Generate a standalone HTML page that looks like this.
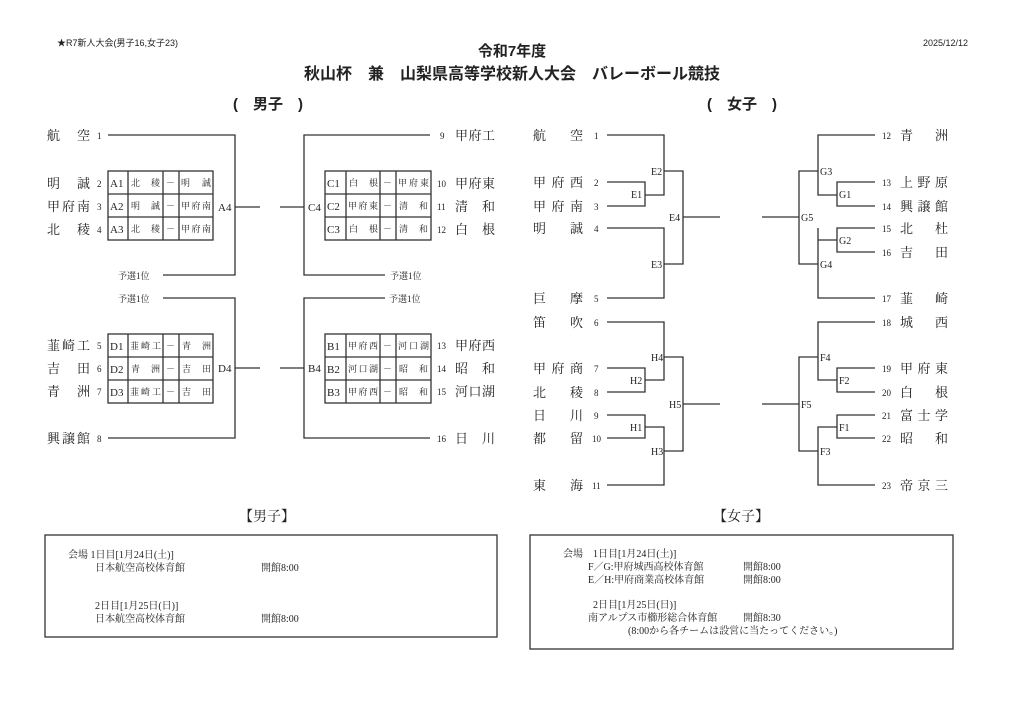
<!DOCTYPE html>
<html><head><meta charset="utf-8"><style>
html,body{margin:0;padding:0;background:#fff;}
svg{display:block;}
text{font-family:"Liberation Serif","Noto Serif CJK JP","Noto Serif CJK SC",serif;fill:#222;}
.s{font-family:"Liberation Sans","Noto Sans CJK JP",sans-serif;}
.n{font-size:13px;}
.num{font-size:9px;}
.c{font-size:11px;}
.cs{font-size:9px;}
.lb{font-size:10px;}
line,rect,polyline{stroke:#333;stroke-width:1.3;fill:none;}
</style></head><body>
<svg width="1024" height="723" viewBox="0 0 1024 723" xmlns="http://www.w3.org/2000/svg">
<!-- header -->
<text class="s" x="57" y="46" font-size="9">★R7新人大会(男子16,女子23)</text>
<text class="s" x="968" y="46" font-size="9" text-anchor="end">2025/12/12</text>
<text class="s" x="512" y="56" font-size="15" text-anchor="middle" font-weight="bold">令和7年度</text>
<text class="s" x="512" y="79" font-size="16" text-anchor="middle" font-weight="bold">秋山杯　兼　山梨県高等学校新人大会　バレーボール競技</text>
<text class="s" x="268" y="109" font-size="15" text-anchor="middle" font-weight="bold">(　男子　)</text>
<text class="s" x="742" y="109" font-size="15" text-anchor="middle" font-weight="bold">(　女子　)</text>

<!-- MEN left top -->
<text class="n" x="47" y="140" textLength="43" lengthAdjust="spacing">航空</text><text class="num" x="97" y="139">1</text>
<text class="n" x="47" y="188" textLength="43" lengthAdjust="spacing">明誠</text><text class="num" x="97" y="187">2</text>
<text class="n" x="47" y="211" textLength="43" lengthAdjust="spacing">甲府南</text><text class="num" x="97" y="210">3</text>
<text class="n" x="47" y="234" textLength="43" lengthAdjust="spacing">北稜</text><text class="num" x="97" y="233">4</text>
<polyline points="108,135 235,135 235,275 163,275"/>
<text class="cs" x="118" y="279">予選1位</text>
<line x1="235" y1="207" x2="260" y2="207"/>
<text class="c" x="218" y="211">A4</text>
<rect x="108" y="171" width="105" height="69"/>
<line x1="108" y1="194" x2="213" y2="194"/><line x1="108" y1="217" x2="213" y2="217"/>
<line x1="128" y1="171" x2="128" y2="240"/><line x1="163" y1="171" x2="163" y2="240"/><line x1="179" y1="171" x2="179" y2="240"/>
<text class="c" x="110" y="187">A1</text><text class="c" x="110" y="210">A2</text><text class="c" x="110" y="233">A3</text>
<text class="cs" x="131" y="186" textLength="29" lengthAdjust="spacing">北稜</text><text class="cs" x="131" y="209" textLength="29" lengthAdjust="spacing">明誠</text><text class="cs" x="131" y="232" textLength="29" lengthAdjust="spacing">北稜</text>
<text class="cs" x="166" y="186">－</text><text class="cs" x="166" y="209">－</text><text class="cs" x="166" y="232">－</text>
<text class="cs" x="181" y="186" textLength="30" lengthAdjust="spacing">明誠</text><text class="cs" x="181" y="209" textLength="30" lengthAdjust="spacing">甲府南</text><text class="cs" x="181" y="232" textLength="30" lengthAdjust="spacing">甲府南</text>

<!-- MEN right top -->
<polyline points="430,135 304,135 304,275 385,275"/>
<text class="cs" x="390" y="279">予選1位</text>
<line x1="280" y1="207" x2="304" y2="207"/>
<text class="c" x="308" y="211">C4</text>
<rect x="325" y="171" width="106" height="69"/>
<line x1="325" y1="194" x2="431" y2="194"/><line x1="325" y1="217" x2="431" y2="217"/>
<line x1="346" y1="171" x2="346" y2="240"/><line x1="380" y1="171" x2="380" y2="240"/><line x1="396" y1="171" x2="396" y2="240"/>
<text class="c" x="327" y="187">C1</text><text class="c" x="327" y="210">C2</text><text class="c" x="327" y="233">C3</text>
<text class="cs" x="349" y="186" textLength="29" lengthAdjust="spacing">白根</text><text class="cs" x="348" y="209" textLength="30" lengthAdjust="spacing">甲府東</text><text class="cs" x="349" y="232" textLength="29" lengthAdjust="spacing">白根</text>
<text class="cs" x="383" y="186">－</text><text class="cs" x="383" y="209">－</text><text class="cs" x="383" y="232">－</text>
<text class="cs" x="398" y="186" textLength="31" lengthAdjust="spacing">甲府東</text><text class="cs" x="399" y="209" textLength="29" lengthAdjust="spacing">清和</text><text class="cs" x="399" y="232" textLength="29" lengthAdjust="spacing">清和</text>
<text class="num" x="440" y="139">9</text><text class="n" x="455" y="140" textLength="40" lengthAdjust="spacing">甲府工</text>
<text class="num" x="437" y="187">10</text><text class="n" x="455" y="188" textLength="40" lengthAdjust="spacing">甲府東</text>
<text class="num" x="437" y="210">11</text><text class="n" x="455" y="211" textLength="40" lengthAdjust="spacing">清和</text>
<text class="num" x="437" y="233">12</text><text class="n" x="455" y="234" textLength="40" lengthAdjust="spacing">白根</text>

<!-- MEN left bottom -->
<polyline points="163,298 235,298 235,438 108,438"/>
<text class="cs" x="118" y="302">予選1位</text>
<line x1="235" y1="368" x2="260" y2="368"/>
<text class="c" x="218" y="372">D4</text>
<text class="n" x="47" y="350" textLength="43" lengthAdjust="spacing">韮崎工</text><text class="num" x="97" y="349">5</text>
<text class="n" x="47" y="373" textLength="43" lengthAdjust="spacing">吉田</text><text class="num" x="97" y="372">6</text>
<text class="n" x="47" y="396" textLength="43" lengthAdjust="spacing">青洲</text><text class="num" x="97" y="395">7</text>
<text class="n" x="47" y="443" textLength="43" lengthAdjust="spacing">興譲館</text><text class="num" x="97" y="442">8</text>
<rect x="108" y="334" width="105" height="69"/>
<line x1="108" y1="357" x2="213" y2="357"/><line x1="108" y1="380" x2="213" y2="380"/>
<line x1="128" y1="334" x2="128" y2="403"/><line x1="163" y1="334" x2="163" y2="403"/><line x1="179" y1="334" x2="179" y2="403"/>
<text class="c" x="110" y="350">D1</text><text class="c" x="110" y="373">D2</text><text class="c" x="110" y="396">D3</text>
<text class="cs" x="130" y="349" textLength="31" lengthAdjust="spacing">韮崎工</text><text class="cs" x="131" y="372" textLength="29" lengthAdjust="spacing">青洲</text><text class="cs" x="130" y="395" textLength="31" lengthAdjust="spacing">韮崎工</text>
<text class="cs" x="166" y="349">－</text><text class="cs" x="166" y="372">－</text><text class="cs" x="166" y="395">－</text>
<text class="cs" x="182" y="349" textLength="29" lengthAdjust="spacing">青洲</text><text class="cs" x="182" y="372" textLength="29" lengthAdjust="spacing">吉田</text><text class="cs" x="182" y="395" textLength="29" lengthAdjust="spacing">吉田</text>

<!-- MEN right bottom -->
<polyline points="385,298 304,298 304,438 430,438"/>
<text class="cs" x="389" y="302">予選1位</text>
<line x1="280" y1="368" x2="304" y2="368"/>
<text class="c" x="308" y="372">B4</text>
<rect x="325" y="334" width="106" height="69"/>
<line x1="325" y1="357" x2="431" y2="357"/><line x1="325" y1="380" x2="431" y2="380"/>
<line x1="346" y1="334" x2="346" y2="403"/><line x1="380" y1="334" x2="380" y2="403"/><line x1="396" y1="334" x2="396" y2="403"/>
<text class="c" x="327" y="350">B1</text><text class="c" x="327" y="373">B2</text><text class="c" x="327" y="396">B3</text>
<text class="cs" x="348" y="349" textLength="30" lengthAdjust="spacing">甲府西</text><text class="cs" x="348" y="372" textLength="30" lengthAdjust="spacing">河口湖</text><text class="cs" x="348" y="395" textLength="30" lengthAdjust="spacing">甲府西</text>
<text class="cs" x="383" y="349">－</text><text class="cs" x="383" y="372">－</text><text class="cs" x="383" y="395">－</text>
<text class="cs" x="398" y="349" textLength="31" lengthAdjust="spacing">河口湖</text><text class="cs" x="399" y="372" textLength="29" lengthAdjust="spacing">昭和</text><text class="cs" x="399" y="395" textLength="29" lengthAdjust="spacing">昭和</text>
<text class="num" x="437" y="349">13</text><text class="n" x="455" y="350" textLength="40" lengthAdjust="spacing">甲府西</text>
<text class="num" x="437" y="372">14</text><text class="n" x="455" y="373" textLength="40" lengthAdjust="spacing">昭和</text>
<text class="num" x="437" y="395">15</text><text class="n" x="455" y="396" textLength="40" lengthAdjust="spacing">河口湖</text>
<text class="num" x="437" y="442">16</text><text class="n" x="455" y="443" textLength="40" lengthAdjust="spacing">日川</text>

<!-- WOMEN left top -->
<text class="n" x="533" y="140" textLength="50" lengthAdjust="spacing">航空</text><text class="num" x="594" y="139">1</text>
<text class="n" x="533" y="187" textLength="50" lengthAdjust="spacing">甲府西</text><text class="num" x="594" y="186">2</text>
<text class="n" x="533" y="211" textLength="50" lengthAdjust="spacing">甲府南</text><text class="num" x="594" y="210">3</text>
<text class="n" x="533" y="233" textLength="50" lengthAdjust="spacing">明誠</text><text class="num" x="594" y="232">4</text>
<text class="n" x="533" y="303" textLength="50" lengthAdjust="spacing">巨摩</text><text class="num" x="594" y="302">5</text>
<polyline points="607,135 664,135 664,195 645,195"/>
<polyline points="607,182 645,182 645,206 607,206"/>
<polyline points="607,228 664,228 664,298 607,298"/>
<polyline points="664,171 683,171 683,264 664,264"/>
<line x1="683" y1="217" x2="720" y2="217"/>
<text class="lb" x="651" y="175">E2</text><text class="lb" x="631" y="198">E1</text><text class="lb" x="651" y="268">E3</text><text class="lb" x="669" y="221">E4</text>

<!-- WOMEN right top -->
<line x1="762" y1="217" x2="799" y2="217"/>
<polyline points="818,171 799,171 799,264 818,264"/>
<polyline points="875,135 818,135 818,195 837,195"/>
<polyline points="875,182 837,182 837,206 875,206"/>
<polyline points="875,298 818,298 818,228"/>
<polyline points="818,240 837,240"/>
<polyline points="875,228 837,228 837,252 875,252"/>
<text class="lb" x="801" y="221">G5</text><text class="lb" x="820" y="175">G3</text><text class="lb" x="839" y="198">G1</text><text class="lb" x="839" y="244">G2</text><text class="lb" x="820" y="268">G4</text>
<text class="num" x="882" y="139">12</text><text class="n" x="900" y="140" textLength="48" lengthAdjust="spacing">青洲</text>
<text class="num" x="882" y="186">13</text><text class="n" x="900" y="187" textLength="48" lengthAdjust="spacing">上野原</text>
<text class="num" x="882" y="210">14</text><text class="n" x="900" y="211" textLength="48" lengthAdjust="spacing">興譲館</text>
<text class="num" x="882" y="232">15</text><text class="n" x="900" y="233" textLength="48" lengthAdjust="spacing">北杜</text>
<text class="num" x="882" y="256">16</text><text class="n" x="900" y="257" textLength="48" lengthAdjust="spacing">吉田</text>
<text class="num" x="882" y="302">17</text><text class="n" x="900" y="303" textLength="48" lengthAdjust="spacing">韮崎</text>

<!-- WOMEN left bottom -->
<text class="n" x="533" y="327" textLength="50" lengthAdjust="spacing">笛吹</text><text class="num" x="594" y="326">6</text>
<text class="n" x="533" y="373" textLength="50" lengthAdjust="spacing">甲府商</text><text class="num" x="594" y="372">7</text>
<text class="n" x="533" y="397" textLength="50" lengthAdjust="spacing">北稜</text><text class="num" x="594" y="396">8</text>
<text class="n" x="533" y="420" textLength="50" lengthAdjust="spacing">日川</text><text class="num" x="594" y="419">9</text>
<text class="n" x="533" y="443" textLength="50" lengthAdjust="spacing">都留</text><text class="num" x="592" y="442">10</text>
<text class="n" x="533" y="490" textLength="50" lengthAdjust="spacing">東海</text><text class="num" x="592" y="489">11</text>
<polyline points="607,322 664,322 664,380 645,380"/>
<polyline points="607,368 645,368 645,392 607,392"/>
<polyline points="607,415 645,415 645,438 607,438"/>
<polyline points="645,427 664,427 664,485 607,485"/>
<polyline points="664,357 683,357 683,451 664,451"/>
<line x1="683" y1="404" x2="720" y2="404"/>
<text class="lb" x="651" y="361">H4</text><text class="lb" x="630" y="384">H2</text><text class="lb" x="630" y="431">H1</text><text class="lb" x="651" y="455">H3</text><text class="lb" x="669" y="408">H5</text>

<!-- WOMEN right bottom -->
<line x1="762" y1="404" x2="799" y2="404"/>
<polyline points="818,357 799,357 799,451 818,451"/>
<polyline points="875,322 818,322 818,380 837,380"/>
<polyline points="875,368 837,368 837,392 875,392"/>
<polyline points="875,485 818,485 818,427 837,427"/>
<polyline points="875,415 837,415 837,438 875,438"/>
<text class="lb" x="801" y="408">F5</text><text class="lb" x="820" y="361">F4</text><text class="lb" x="839" y="384">F2</text><text class="lb" x="839" y="431">F1</text><text class="lb" x="820" y="455">F3</text>
<text class="num" x="882" y="326">18</text><text class="n" x="900" y="327" textLength="48" lengthAdjust="spacing">城西</text>
<text class="num" x="882" y="372">19</text><text class="n" x="900" y="373" textLength="48" lengthAdjust="spacing">甲府東</text>
<text class="num" x="882" y="396">20</text><text class="n" x="900" y="397" textLength="48" lengthAdjust="spacing">白根</text>
<text class="num" x="882" y="419">21</text><text class="n" x="900" y="420" textLength="48" lengthAdjust="spacing">富士学</text>
<text class="num" x="882" y="442">22</text><text class="n" x="900" y="443" textLength="48" lengthAdjust="spacing">昭和</text>
<text class="num" x="882" y="489">23</text><text class="n" x="900" y="490" textLength="48" lengthAdjust="spacing">帝京三</text>

<!-- bottom info -->
<text x="267" y="521" font-size="14" text-anchor="middle">【男子】</text>
<rect x="45" y="535" width="452" height="102"/>
<text x="68" y="558" font-size="10">会場 1日目[1月24日(土)]</text>
<text x="95" y="571" font-size="10">日本航空高校体育館</text>
<text x="261" y="571" font-size="10">開館8:00</text>
<text x="95" y="609" font-size="10">2日目[1月25日(日)]</text>
<text x="95" y="622" font-size="10">日本航空高校体育館</text>
<text x="261" y="622" font-size="10">開館8:00</text>

<text x="741" y="521" font-size="14" text-anchor="middle">【女子】</text>
<rect x="530" y="535" width="423" height="114"/>
<text x="563" y="557" font-size="10">会場　1日目[1月24日(土)]</text>
<text x="588" y="570" font-size="10">F／G:甲府城西高校体育館</text>
<text x="743" y="570" font-size="10">開館8:00</text>
<text x="588" y="583" font-size="10">E／H:甲府商業高校体育館</text>
<text x="743" y="583" font-size="10">開館8:00</text>
<text x="593" y="608" font-size="10">2日目[1月25日(日)]</text>
<text x="588" y="621" font-size="10">南アルプス市櫛形総合体育館</text>
<text x="743" y="621" font-size="10">開館8:30</text>
<text x="628" y="634" font-size="10">(8:00から各チームは設営に当たってください。)</text>
</svg>
</body></html>
